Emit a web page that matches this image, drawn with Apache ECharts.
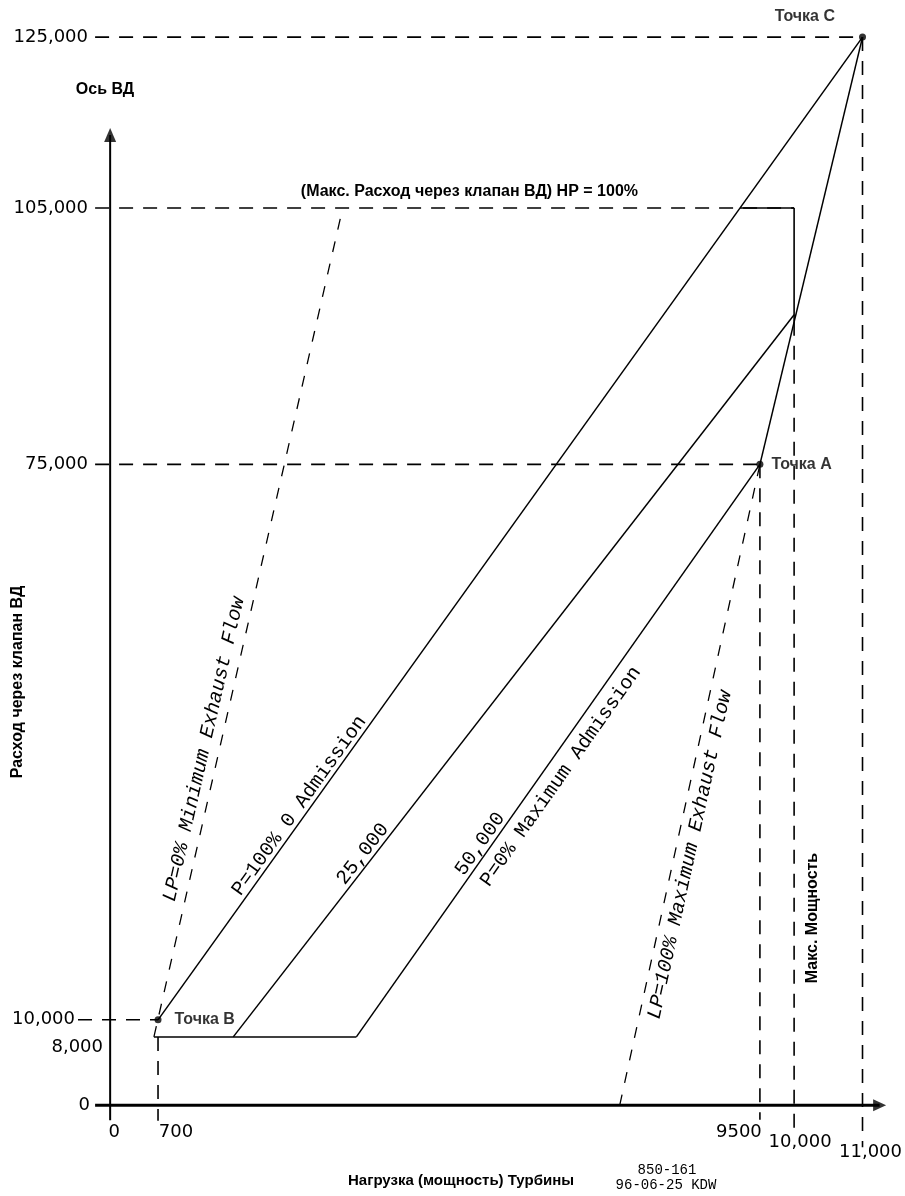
<!DOCTYPE html>
<html><head><meta charset="utf-8">
<script src="https://cdn.jsdelivr.net/npm/echarts@6/dist/echarts.min.js"></script>
<style>html,body{margin:0;padding:0;background:#fff}#c{width:905px;height:1196px}</style>
</head><body><div id="c"></div>
<script>
// ---------------- data (turbine load in kW, HP valve flow) ----------------
const xTicks = [0, 700, 9500, 10000, 11000];
const yTicks = [0, 8000, 10000, 75000, 105000, 125000];
const pointA = [9500, 75000];
const pointB = [700, 10000];
const pointC = [11000, 125000];
const lineP100 = [[700, 10000], [11000, 125000]];      // P=100% 0 Admission
const line25k = [[1800, 8000], [10000, 92500]];         // 25,000
const lineP0 = [[3600, 8000], [9500, 75000]];           // P=0% Maximum Admission (50,000)
const lineAC = [[9500, 75000], [11000, 125000]];
const lineBase = [[640, 8000], [3600, 8000]];           // 8,000 floor
const lineLP0 = [[640, 8000], [3400, 105000]];          // LP=0% Minimum Exhaust Flow
const lineLP100 = [[7450, 0], [9500, 75000]];           // LP=100% Maximum Exhaust Flow
const hpMaxTop = [[9210, 105000], [10000, 105000]];
const hpMaxRight = [[10000, 105000], [10000, 91700]];
const guide125 = [[-220, 125000], [11000, 125000]];
const guide105 = [[-220, 105000], [10000, 105000]];
const guide75 = [[-220, 75000], [9500, 75000]];
const guide10 = [[-470, 10000], [700, 10000]];
const drop700 = [[700, 8000], [700, -1800]];
const drop9500 = [[9500, 75000], [9500, -1700]];
const drop10000 = [[10000, 91700], [10000, -3100]];
const drop11000 = [[11000, 125000], [11000, -4900]];
const yAxisLine = [[0, -1750], [0, 113550]];
const yAxisHead = [[0, 113550]];
const xAxisLine = [[-220, 0], [11250, 0]];
const xAxisHead = [[11250, 0]];
const points = [
  {name: 'Точка А', value: pointA},
  {name: 'Точка В', value: pointB},
  {name: 'Точка С', value: pointC}
];

// ---------------- styling ----------------
const BLACK = '#000';
const TICK_FONT = 'DejaVu Sans';
const BOLD_FONT = '"Liberation Sans", Arial, sans-serif';
const MONO_FONT = '"Liberation Mono", "DejaVu Sans Mono", monospace';

const lineLabels = [
  {text: 'LP=0% Minimum Exhaust Flow', line: lineLP0, t: 0.343, off: 15, italic: true},
  {text: 'P=100% 0 Admission', line: lineP100, t: 0.212, off: 10},
  {text: '25,000', line: line25k, t: 0.245, off: 10},
  {text: '50,000', line: lineP0, t: 0.327, off: 10},
  {text: 'P=0% Maximum Admission', line: lineP0, t: 0.472, off: -17},
  {text: 'LP=100% Maximum Exhaust Flow', line: lineLP100, t: 0.396, off: -15, italic: true}
];

function comma(v) { return String(v).replace(/\B(?=(\d{3})+(?!\d))/g, ','); }
function fmtX(v) { return v >= 10000 ? comma(v) : String(v); }

function seg(data, width, dash, extra) {
  return Object.assign({
    type: 'line', data: data, symbol: 'none', silent: true, animation: false,
    lineStyle: {color: BLACK, width: width, type: dash || 'solid'}, z: 3
  }, extra || {});
}
const DASH = [14, 10];
const DASH_LP = [11, 12];

function rs(pad) { return {padding: pad, fontFamily: TICK_FONT, fontSize: 18, color: BLACK}; }

const option = {
  animation: false,
  backgroundColor: '#fff',
  grid: {left: 78, right: 23.5, top: 20, bottom: 48, containLabel: false},
  xAxis: {
    type: 'value', min: -470, max: 11250,
    axisLine: {show: false},
    axisTick: {show: false}, splitLine: {show: false},
    axisLabel: {
      customValues: xTicks, margin: -25, color: BLACK, fontFamily: TICK_FONT, fontSize: 18,
      formatter: function (v) { return '{x' + xTicks.indexOf(v) + '|' + fmtX(v) + '}'; },
      rich: {
        x0: rs([0, 0, 0, 8]), x1: rs([0, 0, 0, 36]), x2: rs([0, 42, 0, 0]),
        x3: rs([10, 0, 0, 12]), x4: rs([20, 0, 0, 16])
      }
    }
  },
  yAxis: {
    type: 'value', min: -5000, max: 127000,
    axisLine: {show: false, onZero: false},
    axisTick: {show: false}, splitLine: {show: false},
    axisLabel: {
      customValues: yTicks, margin: -27, color: BLACK, fontFamily: TICK_FONT, fontSize: 18,
      formatter: function (v) { return '{y' + yTicks.indexOf(v) + '|' + comma(v) + '}'; },
      rich: {
        y0: rs([0, 15, 0, 0]), y1: rs([20, 2, 0, 0]), y2: rs([0, 30, 0, 0]),
        y3: rs([0, 17, 0, 0]), y4: rs([0, 17, 0, 0]), y5: rs([0, 17, 0, 0])
      }
    }
  },
  series: [
    seg(guide125, 1.6, DASH), seg(guide105, 1.6, DASH), seg(guide75, 1.6, DASH),
    seg(guide10, 1.6, DASH),
    seg(drop700, 1.6, DASH), seg(drop9500, 1.6, DASH),
    seg(drop10000, 1.6, DASH), seg(drop11000, 1.6, DASH),
    seg(lineLP0, 1.3, DASH_LP), seg(lineLP100, 1.3, DASH_LP),
    seg(lineP100, 1.5), seg(line25k, 1.5), seg(lineP0, 1.5), seg(lineAC, 1.5),
    seg(lineBase, 1.5), seg(hpMaxTop, 1.6, 'solid', {z: 4}), seg(hpMaxRight, 1.6, 'solid', {z: 4}),
    seg(yAxisLine, 2, 'solid', {z: 5}),
    seg(xAxisLine, 3, 'solid', {z: 5}),
    {type: 'scatter', data: yAxisHead, symbol: 'triangle', symbolSize: [12, 14],
     itemStyle: {color: BLACK}, silent: true, z: 5, clip: false},
    {type: 'scatter', data: xAxisHead, symbol: 'triangle', symbolSize: [12, 13], symbolRotate: -90,
     itemStyle: {color: BLACK}, silent: true, z: 5, clip: false},
    {type: 'scatter', symbolSize: 7, itemStyle: {color: BLACK}, silent: true, z: 6, clip: false,
     data: [
       {value: points[0].value, label: {show: true, formatter: points[0].name, position: 'right', distance: 8}},
       {value: points[1].value, label: {show: true, formatter: points[1].name, position: 'right', distance: 13}},
       {value: points[2].value, label: {show: true, formatter: points[2].name, position: 'left', distance: 24, offset: [0, -20]}}
     ],
     label: {color: BLACK, fontFamily: BOLD_FONT, fontWeight: 'bold', fontSize: 16}}
  ]
};

const chart = echarts.init(document.getElementById('c'), null, {renderer: 'canvas'});
chart.setOption(option);

const px = function (p) { return chart.convertToPixel({gridIndex: 0}, p); };
const graphics = [];
lineLabels.forEach(function (L) {
  const a = px(L.line[0]), b = px(L.line[1]);
  const dx = b[0] - a[0], dy = b[1] - a[1], len = Math.hypot(dx, dy);
  const nx = dy / len, ny = -dx / len;
  graphics.push({
    type: 'text', silent: true, z: 10,
    x: a[0] + L.t * dx + L.off * nx, y: a[1] + L.t * dy + L.off * ny,
    rotation: Math.atan2(-dy, dx),
    style: {text: L.text, font: (L.italic ? 'italic ' : '') + '20px ' + MONO_FONT,
            fill: BLACK, align: 'center', verticalAlign: 'middle'}
  });
});
function boldText(text, x, y, size, align, rot) {
  return {type: 'text', silent: true, z: 10, x: x, y: y, rotation: rot || 0,
          style: {text: text, font: 'bold ' + size + 'px ' + BOLD_FONT, fill: BLACK,
                  align: align || 'center', verticalAlign: 'middle'}};
}
const y105 = px([0, 105000])[1];
const x10k = px([10000, 0])[0];
graphics.push(boldText('Ось ВД', 105, 90, 16));
graphics.push(boldText('(Макс. Расход через клапан ВД) HP = 100%', 638, y105 - 16, 16, 'right'));
graphics.push(boldText('Макс. Мощность', x10k + 18, 918, 16, 'center', Math.PI / 2));
graphics.push(boldText('Расход через клапан ВД', 18, 682, 16, 'center', Math.PI / 2));
graphics.push(boldText('Нагрузка (мощность) Турбины', 461, 1181, 15));
graphics.push({type: 'text', silent: true, z: 10, x: 667, y: 1170,
  style: {text: '850-161', font: '14px ' + MONO_FONT, fill: BLACK, align: 'center', verticalAlign: 'middle'}});
graphics.push({type: 'text', silent: true, z: 10, x: 666, y: 1185,
  style: {text: '96-06-25 KDW', font: '14px ' + MONO_FONT, fill: BLACK, align: 'center', verticalAlign: 'middle'}});
chart.setOption({graphic: graphics});
</script>
</body></html>
